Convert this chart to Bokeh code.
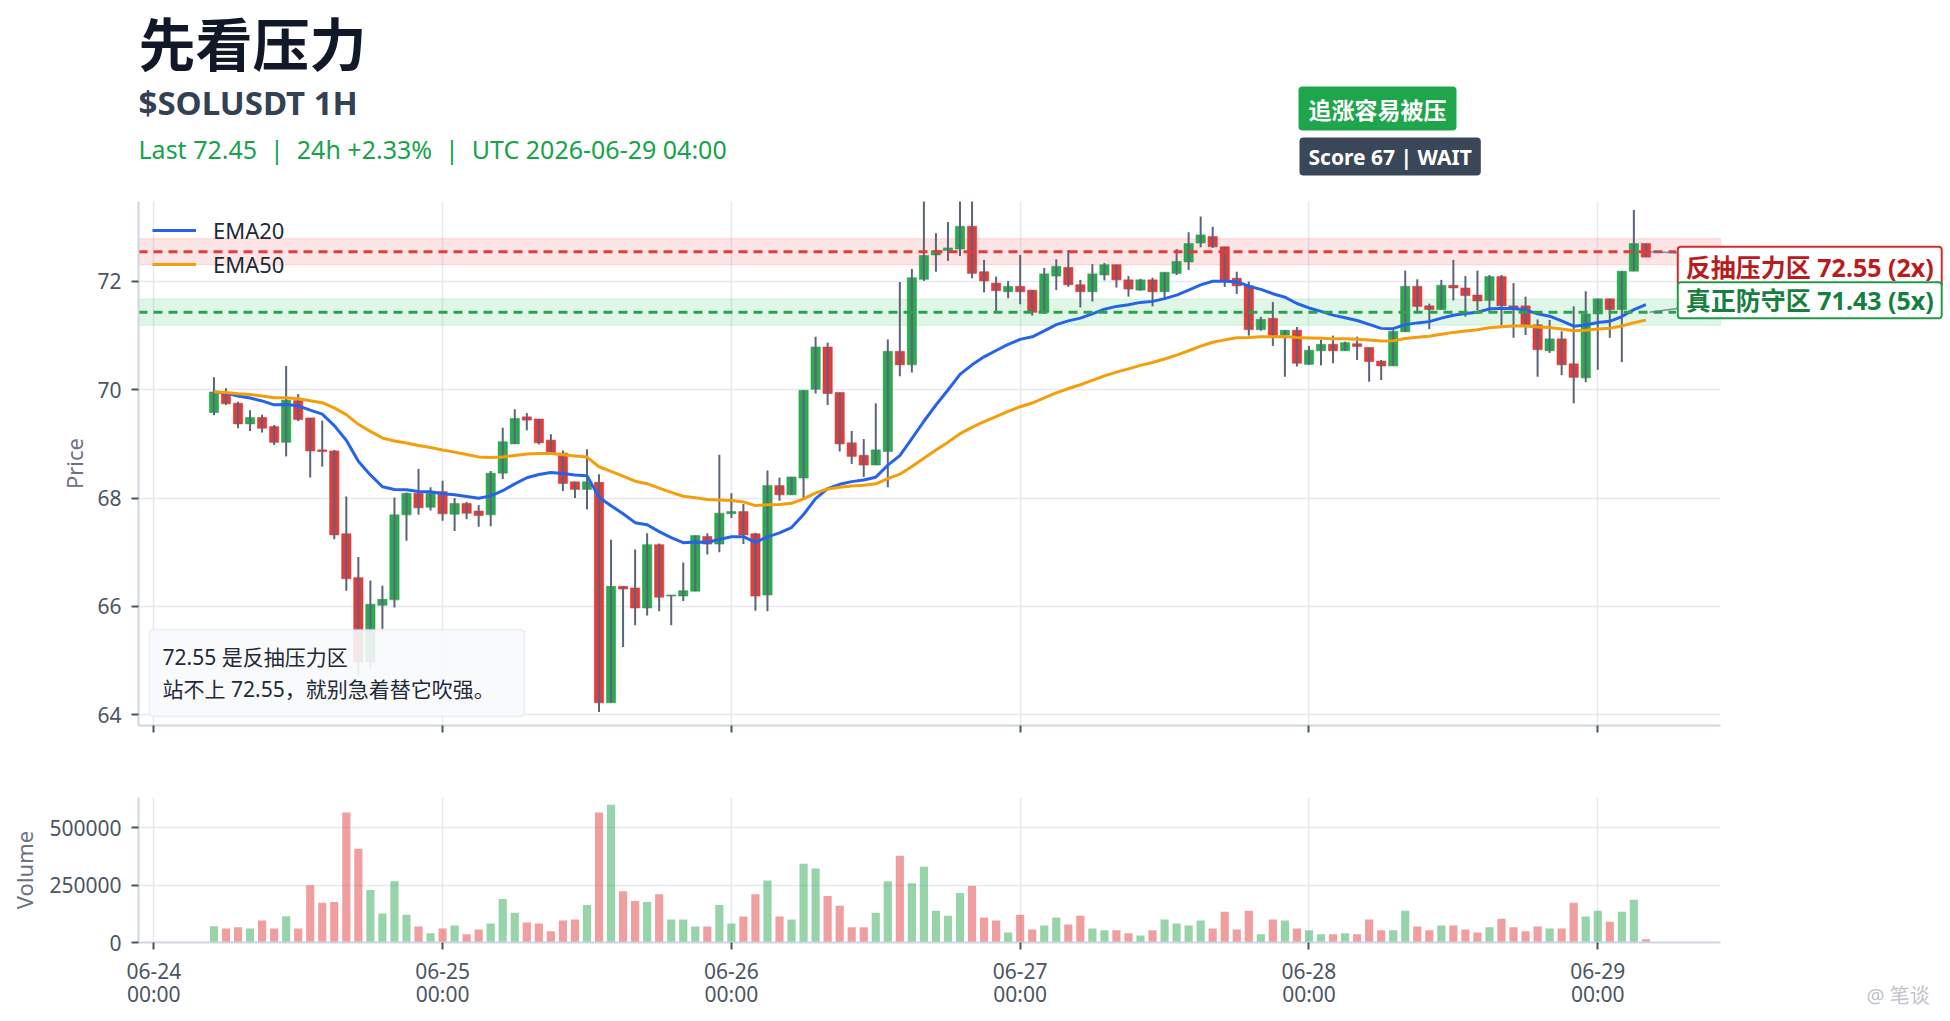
import numpy as np
import pandas as pd
from bokeh.plotting import figure
from bokeh.models import (Range1d, FixedTicker, BasicTickFormatter,
                          BoxAnnotation, Label, ColumnDataSource)
from bokeh.layouts import column, row
from bokeh.embed import file_html
from bokeh.resources import INLINE

# ---------------- data ----------------
start_time = "2026-06-24 05:00"
opens = [69.58, 69.94, 69.75, 69.37, 69.49, 69.32, 69.03, 69.80, 69.48, 68.89,
         68.87, 67.34, 66.53, 64.97, 66.02, 66.12, 67.69, 68.09, 67.83, 68.12,
         67.70, 67.90, 67.76, 67.69, 68.46, 69.00, 69.50, 69.46, 69.07, 68.83,
         68.30, 68.16, 68.29, 64.22, 66.37, 66.34, 65.97, 67.14, 66.19, 66.19,
         66.28, 67.29, 67.15, 67.71, 67.75, 67.34, 66.21, 68.23, 68.06, 68.37,
         70.01, 70.79, 69.95, 69.02, 68.79, 68.61, 68.86, 70.71, 70.46, 72.04,
         72.49, 72.57, 72.60, 73.02, 72.18, 71.97, 71.81, 71.91, 71.84, 71.43,
         72.10, 72.26, 71.94, 71.81, 72.12, 72.31, 72.03, 71.84, 72.03, 71.81,
         72.15, 72.36, 72.71, 72.83, 72.64, 72.06, 71.92, 71.11, 71.32, 71.01,
         71.10, 70.47, 70.72, 70.84, 70.72, 70.85, 70.78, 70.53, 70.44, 71.07,
         71.91, 71.55, 71.48, 71.93, 71.88, 71.75, 71.65, 72.09, 71.55, 71.55,
         71.20, 70.72, 70.94, 70.48, 70.22, 71.40, 71.68, 71.48, 72.19, 72.70]
highs = [70.23, 70.03, 69.78, 69.62, 69.54, 69.35, 70.44, 69.92, 69.48, 69.43,
         68.89, 68.03, 66.91, 66.48, 66.38, 68.01, 68.10, 68.54, 68.20, 68.32,
         68.00, 67.93, 67.87, 68.50, 69.30, 69.64, 69.57, 69.46, 69.18, 68.88,
         68.30, 68.90, 68.44, 67.23, 66.37, 67.05, 67.35, 67.16, 66.21, 66.81,
         67.31, 67.35, 68.80, 68.09, 67.89, 67.36, 68.51, 68.38, 68.39, 69.99,
         70.98, 70.87, 69.95, 69.24, 69.09, 69.75, 70.93, 71.99, 72.23, 73.60,
         72.89, 73.10, 73.60, 73.60, 72.40, 72.09, 72.01, 72.49, 71.84, 72.25,
         72.41, 72.58, 72.03, 72.32, 72.34, 72.31, 72.10, 72.05, 72.07, 72.17,
         72.60, 72.91, 73.20, 73.01, 72.64, 72.18, 72.00, 71.35, 71.62, 71.10,
         71.16, 70.81, 70.92, 71.00, 70.89, 70.98, 70.78, 70.55, 71.10, 72.20,
         72.04, 71.59, 72.03, 72.40, 72.10, 72.20, 72.12, 72.12, 71.97, 71.72,
         71.30, 71.29, 71.08, 71.54, 71.82, 71.68, 71.68, 72.19, 73.32, 72.70]
lows = [69.53, 69.72, 69.29, 69.24, 69.21, 68.98, 68.77, 69.42, 68.38, 68.58,
        67.24, 66.29, 64.72, 64.85, 65.58, 65.98, 67.21, 67.69, 67.77, 67.58,
        67.39, 67.61, 67.47, 67.48, 68.35, 69.00, 69.25, 68.99, 68.81, 68.13,
        68.00, 67.79, 64.05, 64.22, 65.25, 65.65, 65.83, 65.91, 65.65, 66.10,
        66.28, 66.96, 67.00, 67.63, 67.15, 65.92, 65.91, 67.95, 68.06, 67.99,
        69.93, 69.72, 68.86, 68.63, 68.39, 68.61, 68.20, 70.25, 70.32, 72.01,
        72.18, 72.38, 72.47, 72.06, 71.80, 71.43, 71.69, 71.58, 71.37, 71.40,
        71.84, 71.90, 71.52, 71.63, 72.02, 71.89, 71.72, 71.83, 71.54, 71.70,
        72.12, 72.21, 72.63, 72.62, 71.90, 71.77, 71.00, 71.09, 70.81, 70.24,
        70.43, 70.46, 70.45, 70.49, 70.72, 70.55, 70.15, 70.18, 70.44, 71.07,
        71.45, 71.12, 71.48, 71.65, 71.35, 71.47, 71.43, 71.19, 70.96, 71.01,
        70.24, 70.68, 70.27, 69.75, 70.14, 70.37, 70.96, 70.51, 72.19, 72.45]
closes = [69.96, 69.74, 69.37, 69.49, 69.29, 69.03, 69.81, 69.45, 68.87, 68.86,
          67.32, 66.51, 64.97, 66.04, 66.13, 67.69, 68.09, 67.82, 68.09, 67.71,
          67.90, 67.72, 67.68, 68.46, 69.04, 69.47, 69.44, 69.02, 68.83, 68.27,
          68.16, 68.30, 64.22, 66.37, 66.32, 65.97, 67.14, 66.17, 66.21, 66.29,
          67.31, 67.15, 67.72, 67.75, 67.32, 66.19, 68.23, 68.06, 68.39, 69.99,
          70.79, 69.93, 69.00, 68.77, 68.61, 68.89, 70.71, 70.46, 72.07, 72.48,
          72.57, 72.62, 73.02, 72.15, 72.01, 71.83, 71.91, 71.81, 71.43, 72.14,
          72.28, 71.94, 71.81, 72.14, 72.31, 72.03, 71.86, 72.03, 71.81, 72.17,
          72.37, 72.70, 72.86, 72.64, 72.02, 71.92, 71.11, 71.30, 71.01, 71.10,
          70.49, 70.73, 70.84, 70.72, 70.87, 70.80, 70.52, 70.44, 71.08, 71.91,
          71.54, 71.48, 71.93, 71.88, 71.74, 71.64, 72.09, 71.55, 71.51, 71.20,
          70.74, 70.94, 70.46, 70.23, 71.40, 71.68, 71.48, 72.19, 72.70, 72.45]
volumes = [71000, 61000, 66000, 61000, 96000, 61000, 114000, 61000, 250000, 173000,
           177000, 567000, 409000, 229000, 126000, 267000, 121000, 70000, 40000, 61000,
           74000, 36000, 57000, 83000, 190000, 130000, 87000, 83000, 49000, 96000,
           100000, 164000, 567000, 601000, 224000, 181000, 177000, 211000, 100000, 100000,
           70000, 70000, 164000, 83000, 113000, 211000, 271000, 113000, 100000, 344000,
           323000, 203000, 160000, 66000, 66000, 130000, 267000, 379000, 259000, 331000,
           139000, 117000, 216000, 246000, 109000, 96000, 44000, 121000, 57000, 74000,
           109000, 79000, 117000, 61000, 53000, 53000, 40000, 31000, 53000, 100000,
           83000, 74000, 96000, 61000, 134000, 57000, 139000, 36000, 100000, 96000,
           61000, 53000, 36000, 36000, 40000, 36000, 100000, 53000, 53000, 139000,
           70000, 53000, 74000, 74000, 57000, 44000, 66000, 104000, 66000, 49000,
           70000, 61000, 61000, 173000, 113000, 139000, 91000, 134000, 186000, 14000]

day_ticks = ["2026-06-24", "2026-06-25", "2026-06-26", "2026-06-27", "2026-06-28", "2026-06-29"]
tick_labels = ["06-24\n00:00", "06-25\n00:00", "06-26\n00:00", "06-27\n00:00", "06-28\n00:00", "06-29\n00:00"]
price_ticks = [64, 66, 68, 70, 72]
volume_ticks = [0, 250000, 500000]

resist_level = 72.55
resist_band = [72.31, 72.79]
support_level = 71.43
support_band = [71.19, 71.67]

title_text = "先看压力"
subtitle_text = "$SOLUSDT 1H"
SEP = " \u00a0|\u00a0 "
info_text = "Last 72.45" + SEP + "24h +2.33%" + SEP + "UTC 2026-06-29 04:00"
badge_texts = ["追涨容易被压", "Score 67 | WAIT"]
note_lines = ["72.55 是反抽压力区", "站不上 72.55，就别急着替它吹强。"]
resist_label = "反抽压力区 72.55 (2x)"
support_label = "真正防守区 71.43 (5x)"
watermark = "@ 笔谈"

# ---------------- derived ----------------
HOUR = 3600 * 1000
times = pd.date_range(start_time, periods=len(closes), freq="h")
df = pd.DataFrame(dict(t=times, o=opens, h=highs, l=lows, c=closes, v=volumes))
df["top"] = df[["o", "c"]].max(axis=1)
df["bot"] = df[["o", "c"]].min(axis=1)
up = df["c"] >= df["o"]
GREEN = "#22a34a"
RED = "#de3333"
df["col"] = np.where(up, GREEN, RED)
df["ema20"] = df["c"].ewm(span=20, adjust=False).mean()
df["ema50"] = df["c"].ewm(span=50, adjust=False).mean()
src = ColumnDataSource(df)

tick_ms = [int(pd.Timestamp(d).value // 10**6) for d in day_ticks]
day0 = tick_ms[0]
last_ms = int(times[-1].value // 10**6)

# layout (page pixels)
W = 1946
FRAME_L, FRAME_R = 138, 1720
PRICE_EXT_R = 1944
x_start_h, x_end_h = -1.27, 130.2
px_per_h = (FRAME_R - FRAME_L) / (x_end_h - x_start_h)
x_start = day0 + x_start_h * HOUR
x_end = day0 + x_end_h * HOUR
x_ext_end = day0 + (x_start_h + (PRICE_EXT_R - FRAME_L) / px_per_h) * HOUR

FONT = "Noto Sans, Noto Sans CJK SC"
TICK_COL = "#4b5563"


def style_axes(fig):
    for ax in fig.axis:
        ax.axis_line_color = "#cfd6e1"
        ax.axis_line_width = 2
        ax.major_tick_line_color = TICK_COL
        ax.major_tick_line_width = 2
        ax.major_tick_out = 7
        ax.major_tick_in = 0
        ax.minor_tick_line_color = None
        ax.major_label_text_font = FONT
        ax.major_label_text_font_size = "21px"
        ax.major_label_text_color = TICK_COL
        ax.axis_label_text_font = FONT
        ax.axis_label_text_font_size = "22px"
        ax.axis_label_text_font_style = "normal"
        ax.axis_label_text_color = "#6b7280"
    for g in fig.grid:
        g.grid_line_color = "#e6e9ef"
        g.grid_line_width = 1.5


# ---------------- header ----------------
hdr = figure(width=W, height=201, x_range=Range1d(0, W), y_range=Range1d(201, 0),
             x_axis_location=None, y_axis_location=None, toolbar_location=None,
             output_backend="svg", min_border=0)
hdr.frame_align = False
hdr.outline_line_color = None
hdr.grid.visible = False
hdr.add_layout(Label(x=138, y=40, text=title_text, text_font="Noto Sans CJK SC",
                     text_font_size="57px", text_font_style="bold", text_color="#111827",
                     text_baseline="middle"))
hdr.add_layout(Label(x=138, y=102, text=subtitle_text, text_font=FONT,
                     text_font_size="33px", text_font_style="bold", text_color="#334155",
                     text_baseline="middle"))
hdr.add_layout(Label(x=138, y=148, text=info_text, text_font=FONT,
                     text_font_size="25px", text_color="#16a34a",
                     text_baseline="middle"))
hdr.add_layout(Label(x=1298, y=108, text=badge_texts[0], text_font="Noto Sans CJK SC",
                     text_font_size="23px", text_font_style="bold", text_color="white",
                     text_baseline="middle", background_fill_color="#1fa64c",
                     padding=dict(left=10, right=10, top=5, bottom=5), border_radius=4))
hdr.add_layout(Label(x=1299, y=156, text=badge_texts[1], text_font=FONT,
                     text_font_size="21px", text_font_style="bold", text_color="white",
                     text_baseline="middle", background_fill_color="#3a4759",
                     padding=dict(left=9, right=9, top=5, bottom=5), border_radius=4))

# ---------------- price panel ----------------
p = figure(width=W, height=559, x_axis_type="datetime",
           x_range=Range1d(x_start, x_ext_end), y_range=Range1d(63.80, 73.477),
           toolbar_location=None, output_backend="svg",
           min_border_left=FRAME_L, min_border_right=W - PRICE_EXT_R,
           min_border_top=0, min_border_bottom=35)
p.frame_align = False
p.outline_line_color = None
p.background_fill_color = "white"

p.xaxis.ticker = FixedTicker(ticks=tick_ms)
p.xaxis.major_label_overrides = {ms: "" for ms in tick_ms}
p.xaxis.bounds = (x_start, x_end)
p.xgrid.ticker = FixedTicker(ticks=tick_ms)
p.yaxis.ticker = FixedTicker(ticks=price_ticks)
p.ygrid.ticker = FixedTicker(ticks=price_ticks)
p.yaxis.axis_label = "Price"
style_axes(p)
p.yaxis.major_label_standoff = 10
p.yaxis.axis_label_standoff = 5

# hide grid to the right of the chart area (label gutter)
p.add_layout(BoxAnnotation(left=x_end, fill_color="white", fill_alpha=1.0,
                           line_color=None, level="underlay"))
p.add_layout(BoxAnnotation(bottom=resist_band[0], top=resist_band[1], right=x_end,
                           fill_color="#ef4444", fill_alpha=0.14, line_color="#ef4444",
                           line_alpha=0.12, line_width=1.5, level="underlay"))
p.add_layout(BoxAnnotation(bottom=support_band[0], top=support_band[1], right=x_end,
                           fill_color="#22c55e", fill_alpha=0.14, line_color="#22c55e",
                           line_alpha=0.12, line_width=1.5, level="underlay"))

p.vbar(x="t", width=0.77 * HOUR, top="top", bottom="bot", source=src,
       fill_color="col", line_color="col", line_alpha=0.55, fill_alpha=0.95, line_width=1)
p.segment(x0="t", y0="l", x1="t", y1="h", source=src, line_color="#5b6577", line_width=2)

p.line(x="t", y="ema20", source=src, line_color="#2563eb", line_width=3,
       legend_label="EMA20", line_join="round")
p.line(x="t", y="ema50", source=src, line_color="#f59e0b", line_width=3,
       legend_label="EMA50", line_join="round")

p.segment(x0=[x_start, x_start], x1=[last_ms + 2.5 * HOUR] * 2,
          y0=[resist_level, support_level], y1=[resist_level, support_level],
          line_color=["#e03c3c", "#2ea14e"], line_dash="9 6", line_width=3)

# leader lines to the right-side labels
p.segment(x0=[last_ms + 0.3 * HOUR] * 2, y0=[resist_level, support_level],
          x1=[last_ms + 2.6 * HOUR] * 2, y1=[resist_level - 0.02, support_level + 0.07],
          line_color="#6b7280", line_width=1.5, line_alpha=0.8)

p.add_layout(Label(x=last_ms + 2.65 * HOUR, y=resist_level, y_offset=-15, text=resist_label,
                   text_font=FONT, text_font_size="25px", text_font_style="bold",
                   text_color="#b91c1c", text_baseline="middle",
                   background_fill_color="white", border_line_color="#d52b2b",
                   border_line_width=2, padding=dict(left=8, right=8, top=3, bottom=3),
                   border_radius=3))
p.add_layout(Label(x=last_ms + 2.65 * HOUR, y=support_level, y_offset=12, text=support_label,
                   text_font=FONT, text_font_size="25px", text_font_style="bold",
                   text_color="#15803d", text_baseline="middle",
                   background_fill_color="white", border_line_color="#229a48",
                   border_line_width=2, padding=dict(left=8, right=8, top=1, bottom=1),
                   border_radius=3))

# note box
p.add_layout(BoxAnnotation(left=day0 - 0.36 * HOUR, right=day0 + 30.8 * HOUR,
                           bottom=63.966, top=65.573, fill_color="#f8fafc", fill_alpha=0.9,
                           line_color="#cdd5e0", line_width=2, border_radius=4))
p.add_layout(Label(x=day0 + 0.73 * HOUR, y=65.06, text=note_lines[0], text_font=FONT,
                   text_font_size="21px", text_color="#1f2937", text_baseline="middle"))
p.add_layout(Label(x=day0 + 0.73 * HOUR, y=64.47, text=note_lines[1], text_font=FONT,
                   text_font_size="21px", text_color="#1f2937", text_baseline="middle"))

p.legend.location = "top_left"
p.legend.background_fill_alpha = 0
p.legend.border_line_alpha = 0
p.legend.label_text_font = FONT
p.legend.label_text_font_size = "22px"
p.legend.label_text_color = "#1f2937"
p.legend.glyph_width = 44
p.legend.glyph_height = 24
p.legend.label_height = 24
p.legend.label_standoff = 17
p.legend.spacing = 4
p.legend.padding = 8
p.legend.margin = 6

# ---------------- volume panel ----------------
VOL_W = 1730
v = figure(width=VOL_W, height=250, x_axis_type="datetime",
           x_range=Range1d(x_start, x_end),
           y_range=Range1d(0, 632600), toolbar_location=None, output_backend="svg",
           min_border_left=FRAME_L, min_border_right=VOL_W - FRAME_R,
           min_border_top=37, min_border_bottom=66)
v.frame_align = False
v.outline_line_color = None
v.vbar(x="t", width=0.68 * HOUR, top="v", bottom=0, source=src,
       fill_color="col", fill_alpha=0.47, line_color=None)
v.xaxis.ticker = FixedTicker(ticks=tick_ms)
v.xaxis.major_label_overrides = {ms: lab for ms, lab in zip(tick_ms, tick_labels)}
v.xgrid.ticker = FixedTicker(ticks=tick_ms)
v.yaxis.ticker = FixedTicker(ticks=volume_ticks)
v.ygrid.ticker = FixedTicker(ticks=volume_ticks)
v.yaxis.formatter = BasicTickFormatter(use_scientific=False)
v.yaxis.axis_label = "Volume"
style_axes(v)
v.xaxis.major_label_standoff = 7
v.xaxis.major_label_text_line_height = 0.83
v.yaxis.major_label_standoff = 10
v.yaxis.axis_label_standoff = 7

# watermark gutter
wm = figure(width=W - VOL_W, height=250, x_range=Range1d(VOL_W, W), y_range=Range1d(1010, 760),
            x_axis_location=None, y_axis_location=None, toolbar_location=None,
            output_backend="svg", min_border=0)
wm.frame_align = False
wm.outline_line_color = None
wm.grid.visible = False
wm.add_layout(Label(x=1866, y=995, text=watermark, text_font=FONT,
                    text_font_size="20px", text_color="#bfc4cc", text_baseline="middle"))

layout = column(hdr, p, row(v, wm))
open("out.html", "w").write(file_html(layout, INLINE))
